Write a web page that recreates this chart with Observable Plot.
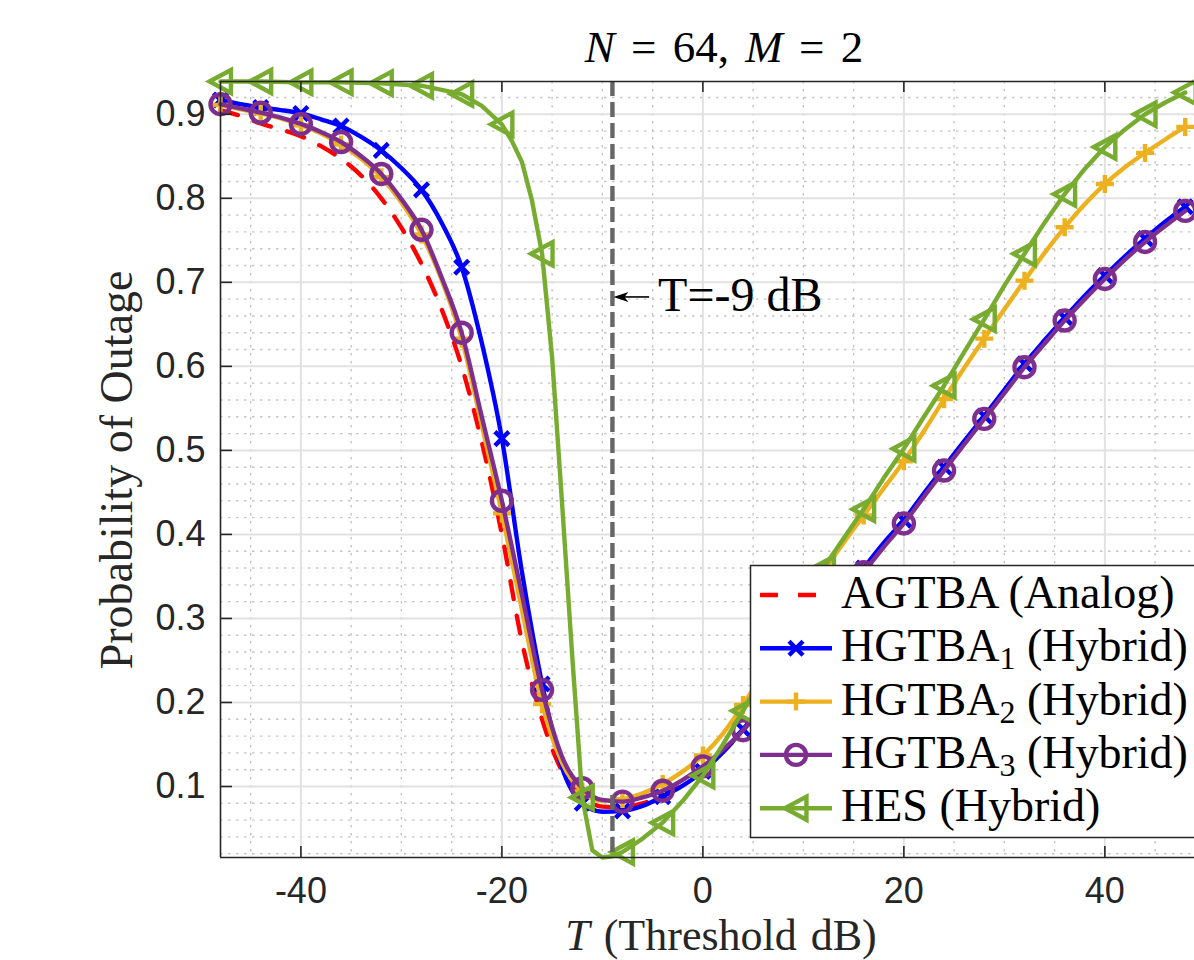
<!DOCTYPE html>
<html>
<head>
<meta charset="utf-8">
<script src="https://cdn.jsdelivr.net/npm/d3@7"></script>
<script src="https://cdn.jsdelivr.net/npm/@observablehq/plot@0.6"></script>
<style>
html, body { margin: 0; padding: 0; background: #fff; overflow: hidden; }
#chart { position: relative; width: 1194px; height: 960px; }
text { white-space: pre; }
</style>
</head>
<body>
<div id="chart"></div>
<script>
// ---------- data ----------
const T = [-48,-46,-44,-42,-40,-38,-36,-34,-32,-30,-28,-26,-24,-22,-20,-18,-16,-14,-12,-10,-8,-6,-4,-2,0,2,4,6,8,10,12,14,16,18,20,22,24,26,28,30,32,34,36,38,40,42,44,46,48];

const agtba = [0.905,0.898,0.889,0.882,0.874,0.862,0.847,0.827,0.800,0.765,0.722,0.668,0.600,0.510,0.400,0.272,0.180,0.118,0.088,0.076,0.075,0.080,0.089,0.102,0.119,0.141,0.167,0.197,0.230,0.263,0.296,0.328,0.359,0.389,0.416,0.448,0.479,0.510,0.540,0.571,0.602,0.630,0.657,0.683,0.707,0.730,0.751,0.771,0.789];

const hgtba1 = [0.917,0.912,0.908,0.905,0.901,0.894,0.886,0.873,0.857,0.836,0.810,0.771,0.718,0.628,0.514,0.355,0.222,0.122,0.080,0.070,0.071,0.077,0.088,0.101,0.118,0.141,0.168,0.198,0.231,0.264,0.297,0.329,0.360,0.390,0.417,0.449,0.480,0.511,0.541,0.572,0.603,0.631,0.658,0.684,0.708,0.731,0.752,0.772,0.790];

const hgtba2 = [0.911,0.906,0.901,0.895,0.887,0.877,0.864,0.847,0.825,0.795,0.757,0.703,0.633,0.530,0.425,0.310,0.198,0.128,0.094,0.083,0.085,0.092,0.103,0.118,0.137,0.163,0.197,0.235,0.274,0.315,0.355,0.390,0.4225,0.455,0.487,0.523,0.561,0.598,0.633,0.668,0.702,0.735,0.7655,0.793,0.817,0.837,0.854,0.870,0.885];

const hgtba3 = [0.912,0.907,0.902,0.896,0.8885,0.879,0.867,0.850,0.829,0.799,0.7625,0.706,0.640,0.540,0.440,0.328,0.215,0.135,0.098,0.084,0.082,0.087,0.095,0.108,0.124,0.144,0.167,0.196,0.228,0.260,0.292,0.324,0.355,0.385,0.413,0.445,0.476,0.507,0.5375,0.568,0.599,0.627,0.6545,0.680,0.704,0.727,0.748,0.767,0.785];

const hesT = [-48,-44,-40,-36,-32,-28,-24,-22,-20,-19,-18,-17,-16,-15,-14,-13,-12,-11,-10,-9,-8,-6,-4,-2,0,2,4,6,8,10,12,14,16,18,20,22,24,26,28,30,32,34,36,38,40,42,44,46,48];
const hes = [0.939,0.939,0.938,0.938,0.937,0.934,0.924,0.910,0.888,0.868,0.843,0.797,0.734,0.610,0.435,0.255,0.087,0.024,0.0155,0.017,0.022,0.038,0.057,0.083,0.113,0.150,0.190,0.232,0.275,0.318,0.360,0.395,0.430,0.467,0.502,0.540,0.577,0.617,0.656,0.696,0.734,0.771,0.805,0.835,0.861,0.882,0.900,0.914,0.926];

const seriesNames = ["AGTBA", "HGTBA", "HGTBA", "HGTBA", "HES"];
const seriesSubs = ["", "1", "2", "3", ""];
const seriesSuffix = [" (Analog)", " (Hybrid)", " (Hybrid)", " (Hybrid)", " (Hybrid)"];
const seriesColors = ["#FF0000", "#0000FF", "#EDB120", "#7E2F8E", "#77AC30"];

const xTicks = [-40, -20, 0, 20, 40];
const xMinor = [-45,-35,-30,-25,-15,-10,-5,5,10,15,25,30,35,45];
const yTicks = [0.1,0.2,0.3,0.4,0.5,0.6,0.7,0.8,0.9];
const yMinor = [0.02,0.04,0.06,0.08,0.12,0.14,0.16,0.18,0.22,0.24,0.26,0.28,0.32,0.34,0.36,0.38,0.42,0.44,0.46,0.48,0.52,0.54,0.56,0.58,0.62,0.64,0.66,0.68,0.72,0.74,0.76,0.78,0.82,0.84,0.86,0.88,0.92];
const xDomain = [-48, 48.92];
const yDomain = [0.0155, 0.939];

const markerT = -9;           // vertical reference line
const annotY = 0.682;
const annotTailX = -5.3;
const annotLabel = "T=-9 dB";

// ---------- helpers ----------
const rows = (xs, ys) => xs.map((t, i) => ({t, p: ys[i]}));
const everyFour = d => d.t % 4 === 0;

const symTimes = {draw(ctx, size) { const r = Math.sqrt(size / Math.PI); ctx.moveTo(-r, -r); ctx.lineTo(r, r); ctx.moveTo(-r, r); ctx.lineTo(r, -r); }};
const symPlus = {draw(ctx, size) { const r = Math.sqrt(size / Math.PI); ctx.moveTo(-r, 0); ctx.lineTo(r, 0); ctx.moveTo(0, -r); ctx.lineTo(0, r); }};
const symCircle = {draw(ctx, size) { const r = Math.sqrt(size / Math.PI); ctx.moveTo(r, 0); ctx.arc(0, 0, r, 0, 2 * Math.PI); }};
const symLeft = {draw(ctx, size) { const r = Math.sqrt(size / Math.PI); ctx.moveTo(-r, 0); ctx.lineTo(r * 0.95, -r * 1.05); ctx.lineTo(r * 0.95, r * 1.05); ctx.closePath(); }};

const seriesData = [rows(T, agtba), rows(T, hgtba1), rows(T, hgtba2), rows(T, hgtba3), rows(hesT, hes)];
const seriesSym = [null, symTimes, symPlus, symCircle, symLeft];
const seriesR = [0, 7, 9, 10, 11];
const seriesDash = ["18,17", null, null, null, null];
const seriesCurve = ["monotone-x", "monotone-x", "monotone-x", "monotone-x", "linear"];
const LW = 4.4;

const W = 1194, H = 960, ML = 220, MR = 0, MT = 81, MB = 103;
const PW = W - ML - MR, PH = H - MT - MB;

const marks = [
  Plot.ruleY(yMinor, {stroke: "#c4c4c4", strokeWidth: 1.4, strokeDasharray: "2.5,5.5"}),
  Plot.ruleX(xMinor, {stroke: "#c4c4c4", strokeWidth: 1.4, strokeDasharray: "2.5,5.5"}),
  Plot.ruleY(yTicks, {stroke: "#e2e2e2", strokeWidth: 2}),
  Plot.ruleX(xTicks, {stroke: "#e2e2e2", strokeWidth: 2})
];

seriesData.forEach((data, i) => {
  marks.push(Plot.line(data, {x: "t", y: "p", stroke: seriesColors[i], strokeWidth: LW, curve: seriesCurve[i], strokeDasharray: seriesDash[i]}));
  if (seriesSym[i]) {
    marks.push(Plot.dot(data.filter(everyFour), {x: "t", y: "p", r: seriesR[i], symbol: seriesSym[i], fill: "none", stroke: seriesColors[i], strokeWidth: LW}));
  }
});

marks.push(
  Plot.ruleX([markerT], {stroke: "#666666", strokeWidth: 4.4, strokeDasharray: "15,6"}),
  // axes box (left, bottom, top)
  Plot.ruleX([xDomain[0]], {stroke: "#262626", strokeWidth: 1.6}),
  Plot.ruleY([yDomain[0]], {stroke: "#262626", strokeWidth: 1.6}),
  Plot.ruleY([yDomain[1]], {stroke: "#262626", strokeWidth: 1.6}),
  // inward ticks
  Plot.ruleX(xTicks, {stroke: "#262626", strokeWidth: 1.6, insetTop: PH - 11}),
  Plot.ruleX(xTicks, {stroke: "#262626", strokeWidth: 1.6, insetBottom: PH - 11}),
  Plot.ruleY(yTicks, {stroke: "#262626", strokeWidth: 1.6, insetRight: PW - 12}),
  Plot.axisX({ticks: xTicks, tickSize: 0, tickPadding: 20, fontSize: 36, color: "#262626", tickFormat: d => String(d), label: null}),
  Plot.axisY({ticks: yTicks, tickSize: 0, tickPadding: 15, fontSize: 36, color: "#262626", tickFormat: d => d.toFixed(1), label: null})
);

const plot = Plot.plot({
  width: W, height: H,
  marginLeft: ML, marginRight: MR, marginTop: MT, marginBottom: MB,
  x: {domain: xDomain, label: null},
  y: {domain: yDomain, label: null},
  style: {fontFamily: "'Liberation Sans', Arial, sans-serif", fontSize: "36px", background: "#fff", color: "#262626"},
  marks
});
document.getElementById("chart").appendChild(plot);

// ---------- annotations, titles, legend ----------
const svg = d3.select(plot);
const xs = plot.scale("x"), ys = plot.scale("y");
const serif = "'Liberation Serif', 'Times New Roman', serif";

// arrow "T=-9 dB"
const ax = xs.apply(markerT) + 1.5, ay = ys.apply(annotY), tx = xs.apply(annotTailX);
svg.append("line").attr("x1", tx).attr("y1", ay).attr("x2", ax + 8).attr("y2", ay).attr("stroke", "#000").attr("stroke-width", 1.6);
svg.append("path").attr("d", `M${ax},${ay} L${ax + 15},${ay - 5} L${ax + 11},${ay} L${ax + 15},${ay + 5} Z`).attr("fill", "#000");
svg.append("text").attr("x", tx + 9).attr("y", ay + 14).attr("text-anchor", "start")
  .attr("font-family", serif).attr("font-size", 48).attr("fill", "#000").text(annotLabel);

// title
const title = svg.append("text").attr("x", 724).attr("y", 62).attr("text-anchor", "middle")
  .attr("font-family", serif).attr("font-size", 45).attr("fill", "#000").attr("word-spacing", 5);
title.append("tspan").attr("font-style", "italic").text("N");
title.append("tspan").text(" = 64, ");
title.append("tspan").attr("font-style", "italic").text("M");
title.append("tspan").text(" = 2");

// y label
svg.append("text").attr("transform", "translate(132,470) rotate(-90)").attr("text-anchor", "middle")
  .attr("font-family", serif).attr("font-size", 46).attr("fill", "#262626").text("Probability of Outage");

// x label
const xl = svg.append("text").attr("x", 721).attr("y", 950).attr("text-anchor", "middle")
  .attr("font-family", serif).attr("font-size", 44).attr("fill", "#262626").attr("word-spacing", 3);
xl.append("tspan").attr("font-style", "italic").text("T");
xl.append("tspan").text(" (Threshold dB)");

// legend
const lg = svg.append("g");
lg.append("rect").attr("x", 750.5).attr("y", 565.5).attr("width", 470).attr("height", 272)
  .attr("fill", "#fff").attr("stroke", "#262626").attr("stroke-width", 1.5);
seriesNames.forEach((name, i) => {
  const ry = 595 + i * 53.3;
  lg.append("line").attr("x1", 760).attr("x2", 832).attr("y1", ry).attr("y2", ry)
    .attr("stroke", seriesColors[i]).attr("stroke-width", LW)
    .attr("stroke-dasharray", seriesDash[i] ? "18,20" : null);
  if (seriesSym[i]) {
    const p = d3.path();
    seriesSym[i].draw(p, Math.PI * seriesR[i] * seriesR[i]);
    lg.append("path").attr("d", p.toString()).attr("transform", `translate(796,${ry})`)
      .attr("fill", "none").attr("stroke", seriesColors[i]).attr("stroke-width", LW);
  }
  const t = lg.append("text").attr("x", 841).attr("y", ry + 13).attr("text-anchor", "start")
    .attr("font-family", serif).attr("font-size", 46).attr("fill", "#000");
  t.append("tspan").text(name);
  if (seriesSubs[i]) {
    t.append("tspan").attr("font-size", 32).attr("dy", 8).text(seriesSubs[i]);
    t.append("tspan").attr("dy", -8).text(seriesSuffix[i]);
  } else {
    t.append("tspan").text(seriesSuffix[i]);
  }
});
</script>
</body>
</html>
